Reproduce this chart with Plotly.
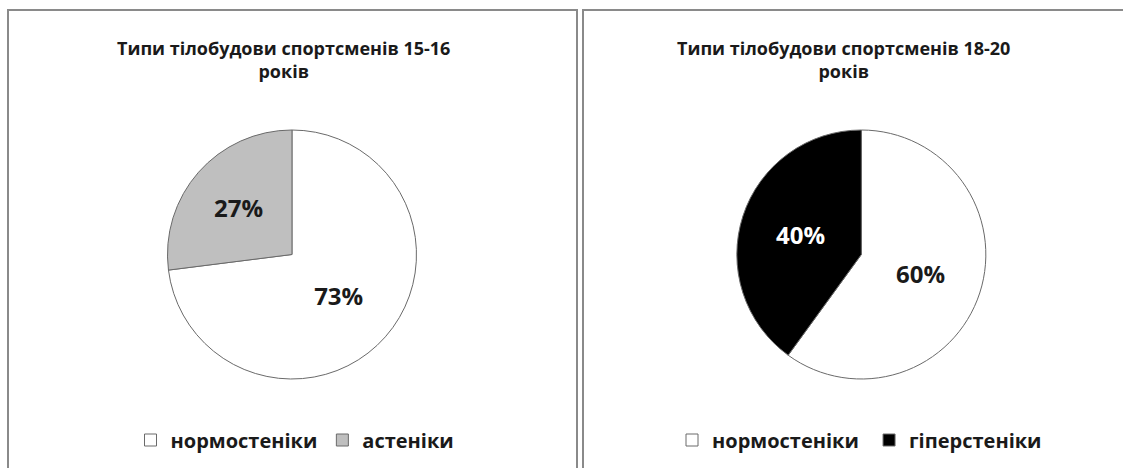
import plotly.graph_objects as go

# Data
categories_left = ["нормостеніки", "астеніки"]
values_left = [73, 27]
categories_right = ["нормостеніки", "гіперстеніки"]
values_right = [60, 40]
title_left = "Типи тілобудови спортсменів 15-16<br>років"
title_right = "Типи тілобудови спортсменів 18-20<br>років"

W, H = 1123, 468
FONT = "Open Sans"
R = 124.5
CY = H - 254.5
dom_y = [(CY - R) / H, (CY + R) / H]

fig = go.Figure()

fig.add_trace(go.Pie(
    labels=categories_left, values=values_left, sort=False,
    direction="clockwise", rotation=0,
    marker=dict(colors=["#ffffff", "#bfbfbf"], line=dict(color="#6a6a6a", width=1)),
    texttemplate="%{value}%", textposition="inside", insidetextorientation="horizontal",
    textfont=dict(family=FONT, size=24, color=["#1a1a1a", "#1a1a1a"], weight="bold"),
    domain=dict(x=[0.10, 0.42], y=dom_y),
    legend="legend", hoverinfo="label+percent",
))

# a trailing space keeps the right legend's entry separate from the left one
fig.add_trace(go.Pie(
    labels=[c + " " for c in categories_right], values=values_right, sort=False,
    direction="clockwise", rotation=0,
    marker=dict(colors=["#ffffff", "#000000"], line=dict(color="#6a6a6a", width=1)),
    texttemplate="%{value}%", textposition="inside", insidetextorientation="horizontal",
    textfont=dict(family=FONT, size=24, color=["#1a1a1a", "#ffffff"], weight="bold"),
    domain=dict(x=[0.607, 0.927], y=dom_y),
    legend="legend2", hoverinfo="label+percent",
))

# panel borders
for x0, x1 in [(8, 577), (583, 1140)]:
    fig.add_shape(type="rect", xref="paper", yref="paper",
                  x0=x0 / W, x1=x1 / W, y0=-0.1, y1=(H - 10) / H,
                  line=dict(color="#8a8a8a", width=2), fillcolor="rgba(0,0,0,0)", layer="below")

for xc, t in [(283 / W, title_left), (843 / W, title_right)]:
    fig.add_annotation(text=t, xref="paper", yref="paper", x=xc, y=(H - 60) / H,
                       showarrow=False, xanchor="center", yanchor="middle",
                       font=dict(family=FONT, size=18, color="#1a1a1a", weight="bold"))

legend_common = dict(orientation="h", yanchor="middle", xanchor="center",
                     font=dict(family=FONT, size=20, color="#1a1a1a", weight="bold"),
                     bgcolor="rgba(0,0,0,0)", itemclick=False, itemdoubleclick=False)

fig.update_layout(
    width=W, height=H, margin=dict(l=0, r=0, t=0, b=0),
    paper_bgcolor="white", plot_bgcolor="white",
    legend=dict(x=295 / W, y=(H - 440) / H, **legend_common),
    legend2=dict(x=862 / W, y=(H - 440) / H, **legend_common),
)

fig.write_html("out.html")
